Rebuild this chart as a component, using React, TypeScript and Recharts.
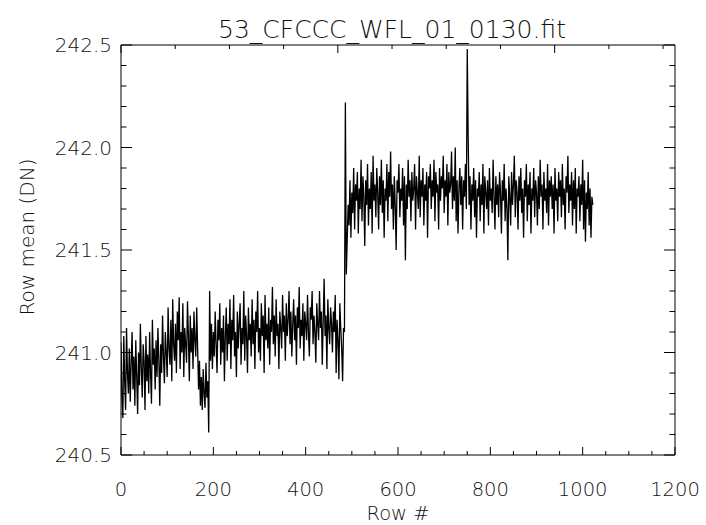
import React from 'react';
import { LineChart, Line, XAxis, YAxis } from 'recharts';

const titleText = '53_CFCCC_WFL_01_0130.fit';
const xTitle = 'Row #';
const yTitle = 'Row mean (DN)';

const rowStep = 2;
const rowMean: number[] = [
  241.05, 240.78, 240.68, 241.08, 240.86, 240.72, 241.12, 240.90, 240.80, 241.02,
  240.76, 240.95, 241.10, 240.82, 240.98, 240.74, 241.06, 240.88, 240.70, 241.00,
  240.84, 241.14, 240.92, 240.78, 241.04, 240.96, 240.72, 241.08, 240.86, 240.99,
  240.80, 241.10, 240.90, 240.75, 241.16, 240.94, 241.02, 240.82, 241.06, 240.88,
  241.12, 240.96, 240.74, 241.04, 240.90, 241.18, 240.98, 240.85, 241.10, 241.00,
  240.88, 241.22, 241.02, 240.94, 241.16, 240.86, 241.26, 241.04, 240.96, 241.14,
  240.90, 241.20, 241.06, 241.27, 240.92, 241.10, 241.00, 241.24, 240.88, 241.12,
  241.04, 240.95, 241.25, 241.08, 240.86, 241.18, 241.00, 241.12, 240.92, 241.20,
  241.06, 240.98, 241.22, 241.02,
  240.82, 240.96, 240.74, 240.88, 240.72, 240.92, 240.80, 240.73, 240.95, 240.78, 240.86, 240.61,
  241.30,
  240.96, 241.14, 240.92,
  241.10, 240.98, 241.20, 241.04, 240.90, 241.16, 241.06, 241.24, 240.94, 241.12,
  241.00, 241.18, 240.86, 241.08, 241.22, 240.96, 241.14, 241.04, 241.26, 240.92,
  241.16, 241.06, 241.28, 240.98, 241.10, 240.88, 241.20, 241.02, 241.14, 241.24,
  240.94, 241.12, 241.04, 241.30, 240.96, 241.18, 241.08, 240.90, 241.22, 241.06,
  241.14, 240.98, 241.26, 241.04, 241.16, 240.92, 241.20, 241.10, 241.30, 241.00,
  241.12, 240.96, 241.24, 241.08, 241.18, 240.90, 241.28, 241.06, 241.14, 241.02,
  241.22, 240.94, 241.16, 241.10, 241.32, 241.04, 241.18, 240.98, 241.26, 241.08,
  241.14, 240.92, 241.20, 241.12, 241.02, 241.28, 241.10, 241.18, 240.96, 241.24,
  241.08, 241.16, 241.30, 241.04, 241.20, 240.98, 241.14, 241.26, 241.06, 241.18,
  240.94, 241.22, 241.12, 241.32, 241.02, 241.16, 241.08, 241.24, 240.96, 241.20,
  241.14, 241.06, 241.28, 241.10, 240.98, 241.22, 241.16, 241.30, 241.04, 241.18,
  241.10, 240.95, 241.24, 241.14, 241.06, 241.30, 241.12, 241.20, 240.94, 241.16,
  241.36, 241.08, 241.18, 240.92, 241.26, 241.12, 241.04, 241.22, 241.14, 241.00,
  241.20, 241.10, 241.28, 240.90, 241.16, 241.06, 240.87, 241.24, 241.12, 241.02,
  240.86,
  241.12, 241.10,
  242.22,
  241.38,
  241.55,
  241.72, 241.62, 241.84, 241.56, 241.78, 241.68, 241.90, 241.60, 241.82, 241.74,
  241.88, 241.58, 241.80, 241.70, 241.94, 241.64, 241.86, 241.76, 241.52, 241.84,
  241.72, 241.92, 241.62, 241.80, 241.70, 241.88, 241.58, 241.96, 241.74, 241.82,
  241.66, 241.90, 241.78, 241.60, 241.86, 241.72, 241.94, 241.68, 241.84, 241.56,
  241.80, 241.74, 241.92, 241.64, 241.88, 241.76, 241.98, 241.70, 241.82, 241.60,
  241.86, 241.72, 241.50, 241.84, 241.78, 241.92, 241.66, 241.80, 241.74, 241.90,
  241.62, 241.86, 241.45, 241.82, 241.70, 241.94, 241.76, 241.84, 241.64, 241.88,
  241.74, 241.80, 241.92, 241.60, 241.86, 241.78, 241.70, 241.96, 241.66, 241.84,
  241.76, 241.90, 241.62, 241.82, 241.74, 241.88, 241.56, 241.86, 241.80, 241.92,
  241.70, 241.84, 241.76, 241.94, 241.64, 241.88, 241.78, 241.82, 241.60, 241.90,
  241.74, 241.86, 241.80, 241.96, 241.68, 241.84, 241.76, 241.92, 241.62, 241.88,
  241.78, 241.82, 241.98, 241.70, 241.86, 241.74, 242.00, 241.64, 241.84, 241.58,
  241.80, 241.90, 241.72, 241.86, 241.60, 241.84, 241.76, 241.92, 241.70,
  242.48,
  242.05,
  241.72, 241.86, 241.60, 241.82, 241.74, 241.90, 241.66, 241.84, 241.56, 241.80,
  241.76, 241.88, 241.64, 241.82, 241.72, 241.92, 241.58, 241.86, 241.78, 241.70,
  241.84, 241.62, 241.90, 241.74, 241.80, 241.68, 241.94, 241.76, 241.60, 241.86,
  241.72, 241.82, 241.66, 241.88, 241.78, 241.58, 241.84, 241.74, 241.92, 241.64,
  241.80, 241.70, 241.45, 241.86, 241.76, 241.62, 241.88, 241.72, 241.82, 241.96,
  241.66, 241.84, 241.78, 241.60, 241.86, 241.74, 241.90, 241.68, 241.80, 241.56,
  241.84, 241.76, 241.92, 241.64, 241.82, 241.72, 241.88, 241.58, 241.80, 241.74,
  241.90, 241.66, 241.84, 241.78, 241.62, 241.86, 241.70, 241.94, 241.76, 241.82,
  241.60, 241.88, 241.74, 241.80, 241.68, 241.92, 241.62, 241.84, 241.76, 241.86,
  241.70, 241.82, 241.58, 241.90, 241.74, 241.80, 241.64, 241.88, 241.76, 241.84,
  241.66, 241.92, 241.72, 241.80, 241.60, 241.86, 241.78, 241.96, 241.68, 241.82,
  241.74, 241.88, 241.62, 241.84, 241.70, 241.90, 241.58, 241.80, 241.76, 241.86,
  241.64, 241.82, 241.72, 241.94, 241.60, 241.84, 241.54, 241.78, 241.70, 241.88,
  241.62, 241.80, 241.56, 241.76, 241.72,
];

const xTicks = [0, 50, 100, 150, 200, 250, 300, 350, 400, 450, 500, 550, 600, 650, 700, 750, 800, 850, 900, 950, 1000, 1050, 1100, 1150, 1200];
const xMajor = [0, 200, 400, 600, 800, 1000, 1200];
const yTicks = [240.5, 240.6, 240.7, 240.8, 240.9, 241.0, 241.1, 241.2, 241.3, 241.4, 241.5, 241.6, 241.7, 241.8, 241.9, 242.0, 242.1, 242.2, 242.3, 242.4, 242.5];
const yMajor = [240.5, 241.0, 241.5, 242.0, 242.5];

const data = rowMean.map((v, i) => ({ row: i * rowStep, mean: v }));

const FONT = '"DejaVu Sans", sans-serif';
const TXT = '#111';

const isMajor = (arr: number[], v: number) => arr.some((m) => Math.abs(m - v) < 1e-6);

const BottomTick = (p: any) => {
  const major = isMajor(xMajor, p.payload.value);
  return (
    <g>
      <line x1={p.x} x2={p.x} y1={p.y} y2={p.y - (major ? 8 : 4)} stroke="#000" strokeWidth={1} />
      {major && (
        <text x={p.x} y={p.y + 34} textAnchor="middle" dominantBaseline="central" fontFamily={FONT} fontSize={19.5} fontWeight={200} fill={TXT}>
          {p.payload.value}
        </text>
      )}
    </g>
  );
};

const TopTick = (p: any) => {
  const major = isMajor(xMajor, p.payload.value);
  return <line x1={p.x} x2={p.x} y1={p.y} y2={p.y + (major ? 8 : 4)} stroke="#000" strokeWidth={1} />;
};

const LeftTick = (p: any) => {
  const major = isMajor(yMajor, p.payload.value);
  return (
    <g>
      <line x1={p.x} x2={p.x + (major ? 11 : 5.5)} y1={p.y} y2={p.y} stroke="#000" strokeWidth={1} />
      {major && (
        <text x={p.x - 9} y={p.y} textAnchor="end" dominantBaseline="central" fontFamily={FONT} fontSize={20} fontWeight={200} fill={TXT}>
          {Number(p.payload.value).toFixed(1)}
        </text>
      )}
    </g>
  );
};

const RightTick = (p: any) => {
  const major = isMajor(yMajor, p.payload.value);
  return <line x1={p.x} x2={p.x - (major ? 11 : 5.5)} y1={p.y} y2={p.y} stroke="#000" strokeWidth={1} />;
};

const BottomLabel = (p: any) => {
  const vb = p.viewBox;
  return (
    <text x={vb.x + vb.width / 2} y={vb.y + 58} textAnchor="middle" dominantBaseline="central" fontFamily={FONT} fontSize={19.5} fontWeight={200} fill={TXT}>
      {xTitle}
    </text>
  );
};

const LeftLabel = (p: any) => {
  const vb = p.viewBox;
  const cx = 27;
  const cy = vb.y + vb.height / 2 - 13;
  return (
    <text x={cx} y={cy} transform={`rotate(-90 ${cx} ${cy})`} textAnchor="middle" dominantBaseline="central" fontFamily={FONT} fontSize={20} fontWeight={200} fill={TXT}>
      {yTitle}
    </text>
  );
};

const TopLabel = (p: any) => {
  const vb = p.viewBox;
  return (
    <text x={vb.x + vb.width / 2 - 6} y={vb.y - 6} textAnchor="middle" fontFamily={FONT} fontSize={25} fontWeight={200} fill={TXT}>
      {titleText}
    </text>
  );
};

export default function App() {
  return (
    <div style={{ position: 'absolute', left: 0, top: 0, width: 706, height: 525, background: '#fff' }}>
      <LineChart width={706} height={525} data={data} margin={{ top: 44, right: 30, bottom: 0, left: 0 }}>
        <XAxis
          xAxisId="b"
          dataKey="row"
          type="number"
          domain={[0, 1200]}
          ticks={xTicks}
          interval={0}
          height={70}
          tickSize={0}
          tickMargin={0}
          tickLine={false}
          axisLine={{ stroke: '#000', strokeWidth: 1 }}
          tick={<BottomTick />}
          label={<BottomLabel />}
          allowDataOverflow
        />
        <XAxis
          xAxisId="t"
          orientation="top"
          type="number"
          domain={[0, 1200]}
          ticks={xTicks}
          interval={0}
          height={1}
          tickSize={0}
          tickMargin={0}
          tickLine={false}
          axisLine={{ stroke: '#000', strokeWidth: 1 }}
          tick={<TopTick />}
          label={<TopLabel />}
          allowDataOverflow
        />
        <YAxis
          yAxisId="l"
          type="number"
          domain={[240.5, 242.5]}
          ticks={yTicks}
          interval={0}
          width={121}
          tickSize={0}
          tickMargin={0}
          tickLine={false}
          axisLine={{ stroke: '#000', strokeWidth: 1 }}
          tick={<LeftTick />}
          label={<LeftLabel />}
          allowDataOverflow
        />
        <YAxis
          yAxisId="r"
          orientation="right"
          type="number"
          domain={[240.5, 242.5]}
          ticks={yTicks}
          interval={0}
          width={1}
          tickSize={0}
          tickMargin={0}
          tickLine={false}
          axisLine={{ stroke: '#000', strokeWidth: 1 }}
          tick={<RightTick />}
          allowDataOverflow
        />
        <Line
          xAxisId="b"
          yAxisId="l"
          type="linear"
          dataKey="mean"
          stroke="#000"
          strokeWidth={1.3}
          dot={false}
          activeDot={false}
          isAnimationActive={false}
        />
      </LineChart>
    </div>
  );
}
